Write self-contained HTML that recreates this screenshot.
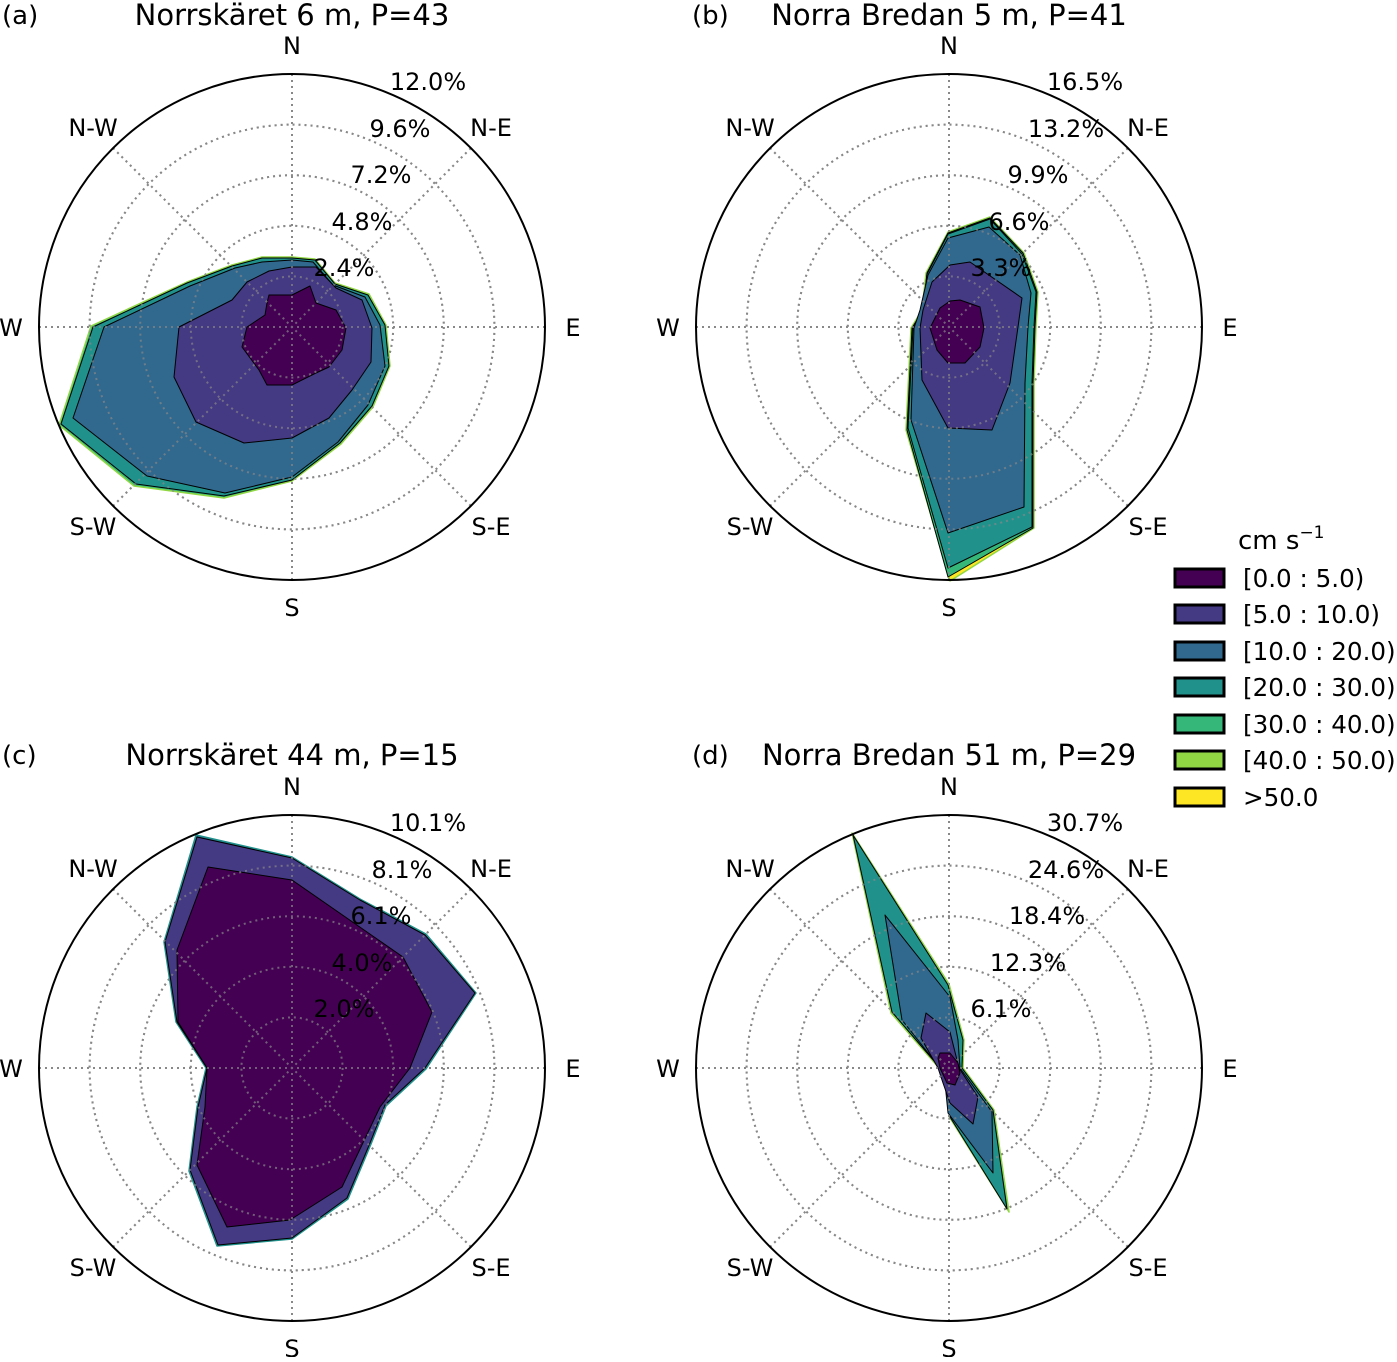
<!DOCTYPE html>
<html><head><meta charset="utf-8"><style>
html,body{margin:0;padding:0;background:#fff}
svg text{font-family:"DejaVu Sans","Liberation Sans",sans-serif;fill:#000}
</style></head><body>
<svg width="1397" height="1357" viewBox="0 0 1397 1357" xmlns="http://www.w3.org/2000/svg">
<defs>
<g id="gl">
<g stroke="#888" stroke-width="2" stroke-dasharray="2,4" fill="none">
<circle r="50.6"/><circle r="101.2"/><circle r="151.8"/><circle r="202.4"/>
<line x1="0" y1="-253" x2="0" y2="253"/><line x1="-253" y1="0" x2="253" y2="0"/>
<line x1="-179" y1="-179" x2="179" y2="179"/><line x1="-179" y1="179" x2="179" y2="-179"/>
</g>
</g>
<g id="frame">
<circle r="253" fill="none" stroke="#000" stroke-width="2"/>
</g>
<g id="dirs" font-size="24" text-anchor="middle">
<text x="0" y="-273">N</text>
<text x="199" y="-191">N-E</text>
<text x="281" y="9">E</text>
<text x="199" y="208">S-E</text>
<text x="0" y="289">S</text>
<text x="-199" y="208">S-W</text>
<text x="-281" y="9">W</text>
<text x="-199" y="-191">N-W</text>
</g>
</defs>

<!-- Panel a -->
<g transform="translate(292,327)"><use href="#gl"/></g>
<g stroke-linejoin="round">
<polygon fill="#35b779" stroke="#90d743" stroke-width="1.5" points="262,257 292,257 315,259 335,283 369,294 386,325 390,366 373,407 341,444 292,481 224,498 134,486 59,425 91,326 187,282 232,265"/>
<polygon fill="#21918c" stroke="#000" stroke-width="1" points="262,258 292,258 315,260 335,284 368,295 385,325 389,366 372,406 340,443 292,480 224,496 136,484 61,424 93,327 187,283 232,266"/>
<polygon fill="#31688e" stroke="#000" stroke-width="1" points="262,262 292,260 313,262 333,285 365,297 380,325 385,366 368,405 338,442 292,477 225,493 147,476 73,418 104,327 190,286 235,268"/>
<polygon fill="#443983" stroke="#000" stroke-width="1" points="269,271 292,267 316,267 336,288 362,300 372,328 371,362 352,390 329,418 292,438 244,443 196,422 174,377 179,327 232,300 247,282"/>
<polygon fill="#440154" stroke="#000" stroke-width="1" points="269,295 292,295 310,286 316,303 336,310 346,328 342,350 329,367 316,373 292,385 267,385 259,370 242,347 247,327 265,315 267,303"/>
</g>
<g transform="translate(292,327)"><g opacity="0.7"><use href="#gl"/></g><use href="#frame"/><use href="#dirs"/></g>
<g font-size="24" text-anchor="middle">
<text x="344" y="276">2.4%</text><text x="362" y="230">4.8%</text><text x="381" y="183">7.2%</text><text x="400" y="137">9.6%</text><text x="428" y="90">12.0%</text>
</g>
<text x="2" y="24" font-size="26">(a)</text>
<text x="292" y="25" font-size="29" text-anchor="middle">Norrskäret 6 m, P=43</text>

<!-- Panel b -->
<g transform="translate(949,327)"><use href="#gl"/></g>
<g stroke-linejoin="round">
<polygon fill="#fde725" stroke="#90d743" stroke-width="1.5" points="948,232 990,217 1024,253 1038,292 1036,327 1034,383 1034,528 950,581 906,430 911,328 922,310 926,273"/>
<polygon fill="#35b779" stroke="#000" stroke-width="1" points="948,233 990,218 1023,253 1037,292 1035,327 1033,383 1033,528 948,577 907,430 912,328 923,310 927,273"/>
<polygon fill="#21918c" stroke="#000" stroke-width="1" points="948,234 990,219 1022,254 1036,292 1034,327 1032,383 1032,527 948,568 908,428 913,328 923,310 927,274"/>
<polygon fill="#31688e" stroke="#000" stroke-width="1" points="948,238 989,227 1020,255 1031,293 1028,327 1025,383 1024,507 948,533 911,420 914,328 920,310 928,275"/>
<polygon fill="#443983" stroke="#000" stroke-width="1" points="950,265 970,262 1022,298 1018,327 1010,383 992,430 948,428 922,380 920,328 923,310 932,282"/>
<polygon fill="#440154" stroke="#000" stroke-width="1" points="950,301 960,300 980,307 984,328 980,347 965,363 948,363 937,350 930,328 940,308"/>
</g>
<g transform="translate(949,327)"><g opacity="0.7"><use href="#gl"/></g><use href="#frame"/><use href="#dirs"/></g>
<g font-size="24" text-anchor="middle">
<text x="1001" y="276">3.3%</text><text x="1019" y="230">6.6%</text><text x="1038" y="183">9.9%</text><text x="1066" y="137">13.2%</text><text x="1085" y="90">16.5%</text>
</g>
<text x="692" y="24" font-size="26">(b)</text>
<text x="949" y="25" font-size="29" text-anchor="middle">Norra Bredan 5 m, P=41</text>

<!-- Panel c -->
<g transform="translate(292,1068)"><use href="#gl"/></g>
<g stroke-linejoin="round">
<polygon fill="#31688e" stroke="#21918c" stroke-width="1.5" points="196,835 292,857 360,899 426,934 476,993 426,1069 386,1106 371,1144 348,1199 292,1239 217,1246 189,1171 197,1107 206,1068 176,1022 164,942"/>
<polygon fill="#443983" stroke="#000" stroke-width="1" points="197,837 292,858 360,900 425,935 475,993 425,1068 385,1105 370,1143 347,1198 292,1238 218,1245 190,1170 198,1107 207,1068 177,1022 165,942"/>
<polygon fill="#440154" stroke="#000" stroke-width="1" points="208,867 292,880 403,957 432,1012 410,1068 380,1107 342,1187 290,1220 227,1227 197,1165 205,1107 207,1068 178,1022 177,950"/>
</g>
<g transform="translate(292,1068)"><g opacity="0.7"><use href="#gl"/></g><use href="#frame"/><use href="#dirs"/></g>
<g font-size="24" text-anchor="middle">
<text x="344" y="1017">2.0%</text><text x="362" y="971">4.0%</text><text x="381" y="924">6.1%</text><text x="402" y="878">8.1%</text><text x="428" y="831">10.1%</text>
</g>
<text x="2" y="764" font-size="26">(c)</text>
<text x="292" y="765" font-size="29" text-anchor="middle">Norrskäret 44 m, P=15</text>

<!-- Panel d -->
<g transform="translate(949,1068)"><use href="#gl"/></g>
<g stroke-linejoin="round">
<polygon fill="#35b779" stroke="#90d743" stroke-width="1.5" points="852,833 949,984 964,1040 963,1068 994,1110 1009,1212 950,1118 946,1083 939,1068 891,1013"/>
<polygon fill="#21918c" stroke="#000" stroke-width="1" points="853,835 948,985 963,1040 962,1068 993,1110 1007,1209 950,1117 947,1083 940,1068 892,1012"/>
<polygon fill="#31688e" stroke="#000" stroke-width="1" points="885,915 950,997 958,1040 960,1068 992,1112 993,1173 948,1113 945,1083 940,1068 902,1020"/>
<polygon fill="#443983" stroke="#000" stroke-width="1" points="926,1013 950,1032 959,1068 978,1097 973,1124 950,1103 943,1083 938,1068 921,1038"/>
<polygon fill="#440154" stroke="#000" stroke-width="1" points="940,1053 950,1053 958,1063 960,1073 955,1085 947,1083 940,1068 938,1058"/>
</g>
<g transform="translate(949,1068)"><g opacity="0.7"><use href="#gl"/></g><use href="#frame"/><use href="#dirs"/></g>
<g font-size="24" text-anchor="middle">
<text x="1001" y="1017">6.1%</text><text x="1028" y="971">12.3%</text><text x="1047" y="924">18.4%</text><text x="1066" y="878">24.6%</text><text x="1085" y="831">30.7%</text>
</g>
<text x="692" y="764" font-size="26">(d)</text>
<text x="949" y="765" font-size="29" text-anchor="middle">Norra Bredan 51 m, P=29</text>

<!-- Legend -->
<text x="1238" y="549" font-size="26">cm s<tspan font-size="17" dy="-11">−1</tspan></text>
<g stroke="#000" stroke-width="3">
<rect x="1175" y="569" width="49" height="18" fill="#440154"/>
<rect x="1175" y="605" width="49" height="18" fill="#443983"/>
<rect x="1175" y="642" width="49" height="18" fill="#31688e"/>
<rect x="1175" y="678" width="49" height="18" fill="#21918c"/>
<rect x="1175" y="715" width="49" height="18" fill="#35b779"/>
<rect x="1175" y="751" width="49" height="18" fill="#90d743"/>
<rect x="1175" y="788" width="49" height="18" fill="#fde725"/>
</g>
<g font-size="24.6">
<text x="1243" y="587">[0.0 : 5.0)</text>
<text x="1243" y="623">[5.0 : 10.0)</text>
<text x="1243" y="660">[10.0 : 20.0)</text>
<text x="1243" y="696">[20.0 : 30.0)</text>
<text x="1243" y="733">[30.0 : 40.0)</text>
<text x="1243" y="769">[40.0 : 50.0)</text>
<text x="1243" y="806">&gt;50.0</text>
</g>
</svg>
</body></html>
